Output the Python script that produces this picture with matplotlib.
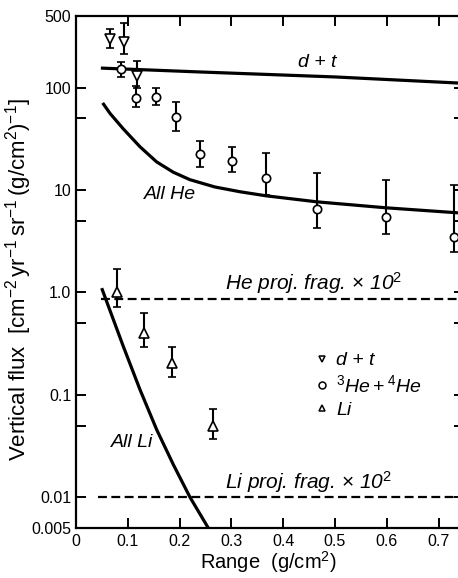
import matplotlib
matplotlib.use("Agg")
import matplotlib.pyplot as plt
from matplotlib.lines import Line2D
import numpy as np

plt.rcParams['font.family'] = ['Liberation Sans', 'DejaVu Sans']
plt.rcParams['mathtext.fontset'] = 'custom'
plt.rcParams['mathtext.rm'] = 'Liberation Sans'
plt.rcParams['mathtext.it'] = 'Liberation Sans:italic'
plt.rcParams['mathtext.bf'] = 'Liberation Sans:bold'

# ---- data: measured points (x = range g/cm^2, y = flux, error bounds) ----
dt_x = [0.066, 0.093, 0.118]
dt_y = [298, 279, 130]
dt_lo = [244, 213, 100]
dt_hi = [373, 427, 182]

he_x = [0.087, 0.116, 0.154, 0.193, 0.240, 0.301, 0.367, 0.465, 0.598, 0.730]
he_y = [152, 79, 80, 52, 22.5, 19.2, 13.1, 6.5, 5.5, 3.5]
he_lo = [127, 65, 67, 38, 16.8, 15.0, 9.0, 4.3, 3.7, 2.5]
he_hi = [178, 104, 100, 72, 30, 26.4, 23, 14.7, 12.6, 11.2]

li_x = [0.079, 0.132, 0.185, 0.265]
li_y = [1.0, 0.40, 0.206, 0.050]
li_lo = [0.72, 0.29, 0.15, 0.037]
li_hi = [1.70, 0.63, 0.295, 0.073]

# ---- model curves ----
dt_curve_x = [0.048, 0.24, 0.50, 0.75]
dt_curve_y = [155, 142, 127, 110]

he_curve_x = [0.0515, 0.0656, 0.0913, 0.1236, 0.1557, 0.1879, 0.220, 0.268, 0.317,
              0.367, 0.465, 0.598, 0.75]
he_curve_y = [70.8, 56.0, 39.5, 26.4, 18.8, 14.9, 12.6, 10.7, 9.6,
              8.77, 7.66, 6.70, 5.92]

li_curve_x = [0.0496, 0.0913, 0.1236, 0.1557, 0.1879, 0.220, 0.2575]
li_curve_y = [1.10, 0.297, 0.112, 0.0457, 0.0208, 0.0100, 0.0048]

he_frag_x = [0.048, 0.75]
he_frag_y = [0.87, 0.87]
li_frag_x = [0.043, 0.75]
li_frag_y = [0.01, 0.01]

x_ticks = [0, 0.1, 0.2, 0.3, 0.4, 0.5, 0.6, 0.7]
x_ticklabels = ['0', '0.1', '0.2', '0.3', '0.4', '0.5', '0.6', '0.7']
y_ticks = [0.005, 0.01, 0.1, 1.0, 10, 100, 500]
y_ticklabels = ['0.005', '0.01', '0.1', '1.0', '10', '100', '500']
y_minor = [0.05, 0.5, 5, 50]

W, H = 458, 578
fig = plt.figure(figsize=(W / 100, H / 100), dpi=100)
ax_l, ax_r, ax_t, ax_b = 76, 464.5, 16, 528
ax = fig.add_axes([ax_l / W, (H - ax_b) / H, (ax_r - ax_l) / W, (ax_b - ax_t) / H])
ax.set_yscale('log')
ax.set_xlim(0, 0.75)
ax.set_ylim(0.005, 500)

lw = 2.3
for cx, cy in [(dt_curve_x, dt_curve_y), (he_curve_x, he_curve_y), (li_curve_x, li_curve_y)]:
    ax.plot(cx, cy, color='black', lw=lw, solid_capstyle='butt', solid_joinstyle='round')
ax.plot(he_frag_x, he_frag_y, color='black', lw=1.6, linestyle=(0, (4, 2)))
ax.plot(li_frag_x, li_frag_y, color='black', lw=1.6, linestyle=(0, (4, 2)))

def eb(x, y, lo, hi, marker, ms):
    yerr = [np.array(y) - np.array(lo), np.array(hi) - np.array(y)]
    ax.errorbar(x, y, yerr=yerr, fmt=marker, ms=ms, mfc='white', mec='black',
                mew=1.2, ecolor='black', elinewidth=1.5, capsize=3, capthick=1.5,
                zorder=5)

eb(dt_x, dt_y, dt_lo, dt_hi, 'v', 6.5)
eb(he_x, he_y, he_lo, he_hi, 'o', 6)
eb(li_x, li_y, li_lo, li_hi, '^', 6.5)

# text labels
tfs = 14
ax.text(0.465, 174, 'd + t', style='italic', fontsize=tfs, ha='center', va='center')
ax.text(0.181, 9.0, 'All He', style='italic', fontsize=tfs, ha='center', va='center')
ax.text(0.288, 1.24, r'He proj. frag. $\times$ 10$^2$', style='italic', fontsize=15,
        ha='left', va='center')
ax.text(0.108, 0.034, 'All Li', style='italic', fontsize=tfs, ha='center', va='center')
ax.text(0.288, 0.0139, r'Li proj. frag. $\times$ 10$^2$', style='italic', fontsize=15,
        ha='left', va='center')

handles = [Line2D([], [], ls='none', marker='v', ms=5, mfc='white', mec='black', mew=1.1),
           Line2D([], [], ls='none', marker='o', ms=5, mfc='white', mec='black', mew=1.1),
           Line2D([], [], ls='none', marker='^', ms=5, mfc='white', mec='black', mew=1.1)]
labels = ['d + t', r'$^3\mathit{He} + ^4\mathit{He}$', 'Li']
leg = ax.legend(handles, labels, loc='upper left', bbox_to_anchor=(303 / W, 1 - 342 / H),
                bbox_transform=fig.transFigure, frameon=False, borderpad=0,
                handlelength=1.0, handletextpad=0.2, labelspacing=0.25,
                prop={'style': 'italic', 'size': tfs})

# ticks and axes
ax.set_xticks(x_ticks)
ax.set_xticklabels(x_ticklabels)
ax.set_yticks(y_ticks)
ax.set_yticklabels(y_ticklabels)
ax.set_yticks(y_minor, minor=True)
ax.yaxis.set_minor_formatter(matplotlib.ticker.NullFormatter())
ax.tick_params(which='both', direction='in', length=7, width=1.4, top=True, right=True,
               labelsize=11.5)
ax.tick_params(axis='x', pad=4)
for s in ax.spines.values():
    s.set_linewidth(1.6)

ax.set_xlabel(r'Range  (g/cm$^2$)', fontsize=14.5)
ax.set_ylabel(r'Vertical flux  [cm$^{-2}\,$yr$^{-1}\,$sr$^{-1}\,$(g/cm$^2$)$^{-1}$]',
              fontsize=16)
ax.xaxis.set_label_coords((268 - ax_l) / (ax_r - ax_l), -(549 - ax_b) / (ax_b - ax_t))
ax.yaxis.set_label_coords(-(ax_l - 34) / (ax_r - ax_l), (ax_b - 280) / (ax_b - ax_t))

fig.savefig('out.png', dpi=100)
